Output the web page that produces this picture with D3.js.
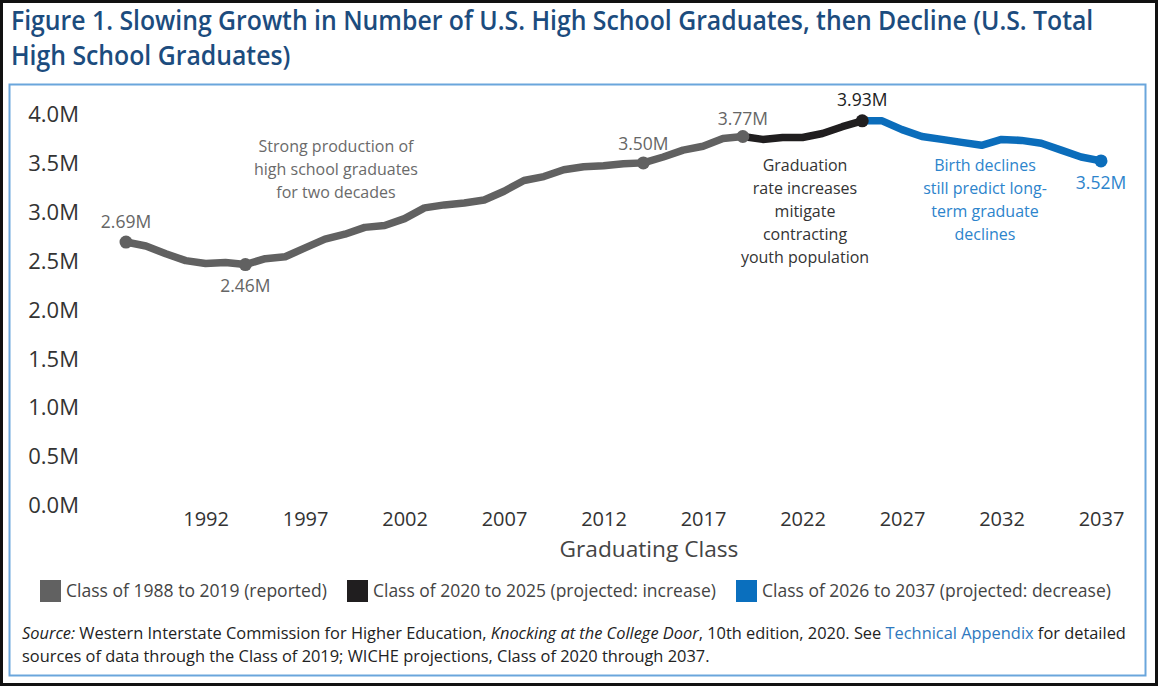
<!DOCTYPE html>
<html><head><meta charset="utf-8">
<script src="https://cdn.jsdelivr.net/npm/d3@7"></script>
<style>
body{margin:0;background:#fff}
svg text{font-family:"Open Sans",sans-serif}
</style>
</head><body>
<svg id="chart" width="1159" height="687"></svg>
<script>
// ---------- DATA ----------
const reportedYears  = [1988,1989,1990,1991,1992,1993,1994,1995,1996,1997,1998,1999,2000,2001,2002,2003,2004,2005,2006,2007,2008,2009,2010,2011,2012,2013,2014,2015,2016,2017,2018,2019];
const reportedValues = [2.69,2.65,2.57,2.50,2.47,2.48,2.46,2.52,2.54,2.63,2.72,2.77,2.84,2.86,2.93,3.04,3.07,3.09,3.12,3.21,3.32,3.36,3.43,3.46,3.47,3.49,3.50,3.56,3.63,3.67,3.75,3.77];
const increaseYears  = [2019,2020,2021,2022,2023,2024,2025];
const increaseValues = [3.77,3.74,3.76,3.76,3.80,3.87,3.93];
const decreaseYears  = [2025,2026,2027,2028,2029,2030,2031,2032,2033,2034,2035,2036,2037];
const decreaseValues = [3.93,3.93,3.84,3.77,3.74,3.71,3.68,3.74,3.73,3.70,3.63,3.56,3.52];
const yTickValues = [0,0.5,1.0,1.5,2.0,2.5,3.0,3.5,4.0];
const xTickValues = [1992,1997,2002,2007,2012,2017,2022,2027,2032,2037];
const labelledYears = [1988,1994,2014,2019,2025,2037];
const legendLabels = ["Class of 1988 to 2019 (reported)","Class of 2020 to 2025 (projected: increase)","Class of 2026 to 2037 (projected: decrease)"];
const titleLines = ["Figure 1. Slowing Growth in Number of U.S. High School Graduates, then Decline (U.S. Total","High School Graduates)"];
const noteReported = ["Strong production of","high school graduates","for two decades"];
const noteIncrease = ["Graduation","rate increases","mitigate","contracting","youth population"];
const noteDecrease = ["Birth declines","still predict long-","term graduate","declines"];
const xAxisTitle = "Graduating Class";

// ---------- STYLE ----------
const C = {gray:"#616161", black:"#201e1f", blue:"#0b6dbb",
           grayText:"#666666", darkText:"#333333", blueText:"#2d84cc",
           title:"#1c4c7e", frame:"#6aa6dc"};

const svg = d3.select("#chart");
svg.append("rect").attr("width",1159).attr("height",687).attr("fill","#fff");
svg.append("rect").attr("x",1.5).attr("y",1.5).attr("width",1155).attr("height",683)
   .attr("fill","none").attr("stroke","#111").attr("stroke-width",3);
svg.append("rect").attr("x",9.5).attr("y",84.5).attr("width",1136).attr("height",591)
   .attr("fill","none").attr("stroke",C.frame).attr("stroke-width",2);

function fit(node, width, ax){
  const w = node.getComputedTextLength();
  const s = width / w;
  d3.select(node).attr("transform",`translate(${ax},0) scale(${s},1) translate(${-ax},0)`);
  return s;
}

// title
const t1 = svg.append("text").attr("x",11).attr("y",30).attr("font-size",27).attr("font-weight",600)
   .attr("fill",C.title).text(titleLines[0]);
const ts = fit(t1.node(), 1083, 11);
svg.append("text").attr("x",11).attr("y",65).attr("font-size",27).attr("font-weight",600)
   .attr("fill",C.title).text(titleLines[1])
   .attr("transform",`translate(11,0) scale(${ts},1) translate(-11,0)`);

// scales
const x = d3.scaleLinear().domain([1988,2037]).range([126,1101]);
const y = d3.scaleLinear().domain([0,4]).range([505,114]);

// axes
const yAx = svg.append("g").attr("transform","translate(79,0)")
  .call(d3.axisLeft(y).tickValues(yTickValues).tickFormat(d=>d.toFixed(1)+"M").tickSize(0).tickPadding(0));
yAx.select(".domain").remove();
yAx.selectAll("text").attr("font-size",22).attr("font-family","Open Sans").attr("fill",C.darkText).attr("dy","0.35em");

const xAx = svg.append("g").attr("transform","translate(0,519)")
  .call(d3.axisBottom(x).tickValues(xTickValues).tickFormat(d3.format("d")).tickSize(0).tickPadding(0));
xAx.select(".domain").remove();
xAx.selectAll("text").attr("y",0).attr("dy","0.35em").attr("font-size",20).attr("font-family","Open Sans").attr("fill",C.darkText);

const xt = svg.append("text").attr("x",649).attr("y",549).attr("dy","0.35em").attr("text-anchor","middle")
  .attr("font-size",22).attr("fill","#444").text(xAxisTitle);
fit(xt.node(),179,649);

// lines
const line = d3.line().x(d=>x(d[0])).y(d=>y(d[1])).curve(d3.curveLinear);
const series = [
  {years:reportedYears, values:reportedValues, color:C.gray},
  {years:increaseYears, values:increaseValues, color:C.black},
  {years:decreaseYears, values:decreaseValues, color:C.blue}
];
series.forEach(s=>{
  const pts = s.years.map((yr,i)=>[yr,s.values[i]]);
  svg.append("path").datum(pts).attr("d",line).attr("fill","none").attr("stroke",s.color)
    .attr("stroke-width",7.5).attr("stroke-linejoin","round").attr("stroke-linecap","round");
});

// points + value labels
const labelOffsets = {1988:-20,1994:21,2014:-19,2019:-18,2025:-21,2037:22};
const labelColors  = {1988:C.grayText,1994:C.grayText,2014:C.grayText,2019:C.grayText,2025:"#222",2037:C.blueText};
function lookup(yr){
  if (yr<=2019) return {v:reportedValues[reportedYears.indexOf(yr)], c:C.gray};
  if (yr<=2025) return {v:increaseValues[increaseYears.indexOf(yr)], c:C.black};
  return {v:decreaseValues[decreaseYears.indexOf(yr)], c:C.blue};
}
labelledYears.forEach(yr=>{
  const p = lookup(yr);
  svg.append("circle").attr("cx",x(yr)).attr("cy",y(p.v)).attr("r",6.5).attr("fill",p.c);
  svg.append("text").attr("x",x(yr)).attr("y",y(p.v)+labelOffsets[yr]).attr("dy","0.35em")
    .attr("text-anchor","middle").attr("font-size",17.5).attr("fill",labelColors[yr])
    .text(p.v.toFixed(2)+"M");
});

// annotations
function note(lines, cx, cy, color){
  lines.forEach((l,i)=>svg.append("text").attr("x",cx).attr("y",cy+i*23.2).attr("dy","0.35em")
    .attr("text-anchor","middle").attr("font-size",16).attr("fill",color).text(l));
}
note(noteReported, 336, 146, "#6a6a6a");
note(noteIncrease, 805, 165, C.darkText);
note(noteDecrease, 985, 165, C.blueText);

// legend
const legColors = [C.gray, C.black, "#0a6fbe"];
const legX = [40, 347, 736];
const legW = [261, 343, 349];
legendLabels.forEach((l,i)=>{
  svg.append("rect").attr("x",legX[i]).attr("y",580).attr("width",21).attr("height",22).attr("fill",legColors[i]);
  const t = svg.append("text").attr("x",legX[i]+26).attr("y",591).attr("dy","0.35em")
    .attr("font-size",18).attr("fill","#444").text(l);
  fit(t.node(), legW[i], legX[i]+26);
});

// source
const s1 = svg.append("text").attr("x",22).attr("y",639).attr("font-size",16).attr("fill","#222");
s1.append("tspan").attr("font-style","italic").text("Source:");
s1.append("tspan").text(" Western Interstate Commission for Higher Education, ");
s1.append("tspan").attr("font-style","italic").text("Knocking at the College Door");
s1.append("tspan").text(", 10th edition, 2020. See ");
s1.append("tspan").attr("fill","#2e78be").text("Technical Appendix");
s1.append("tspan").text(" for detailed");
const ss = fit(s1.node(), 1105, 22);
svg.append("text").attr("x",22).attr("y",662).attr("font-size",16).attr("fill","#222")
  .text("sources of data through the Class of 2019; WICHE projections, Class of 2020 through 2037.")
  .attr("transform",`translate(22,0) scale(${ss},1) translate(-22,0)`);
</script>
</body></html>
